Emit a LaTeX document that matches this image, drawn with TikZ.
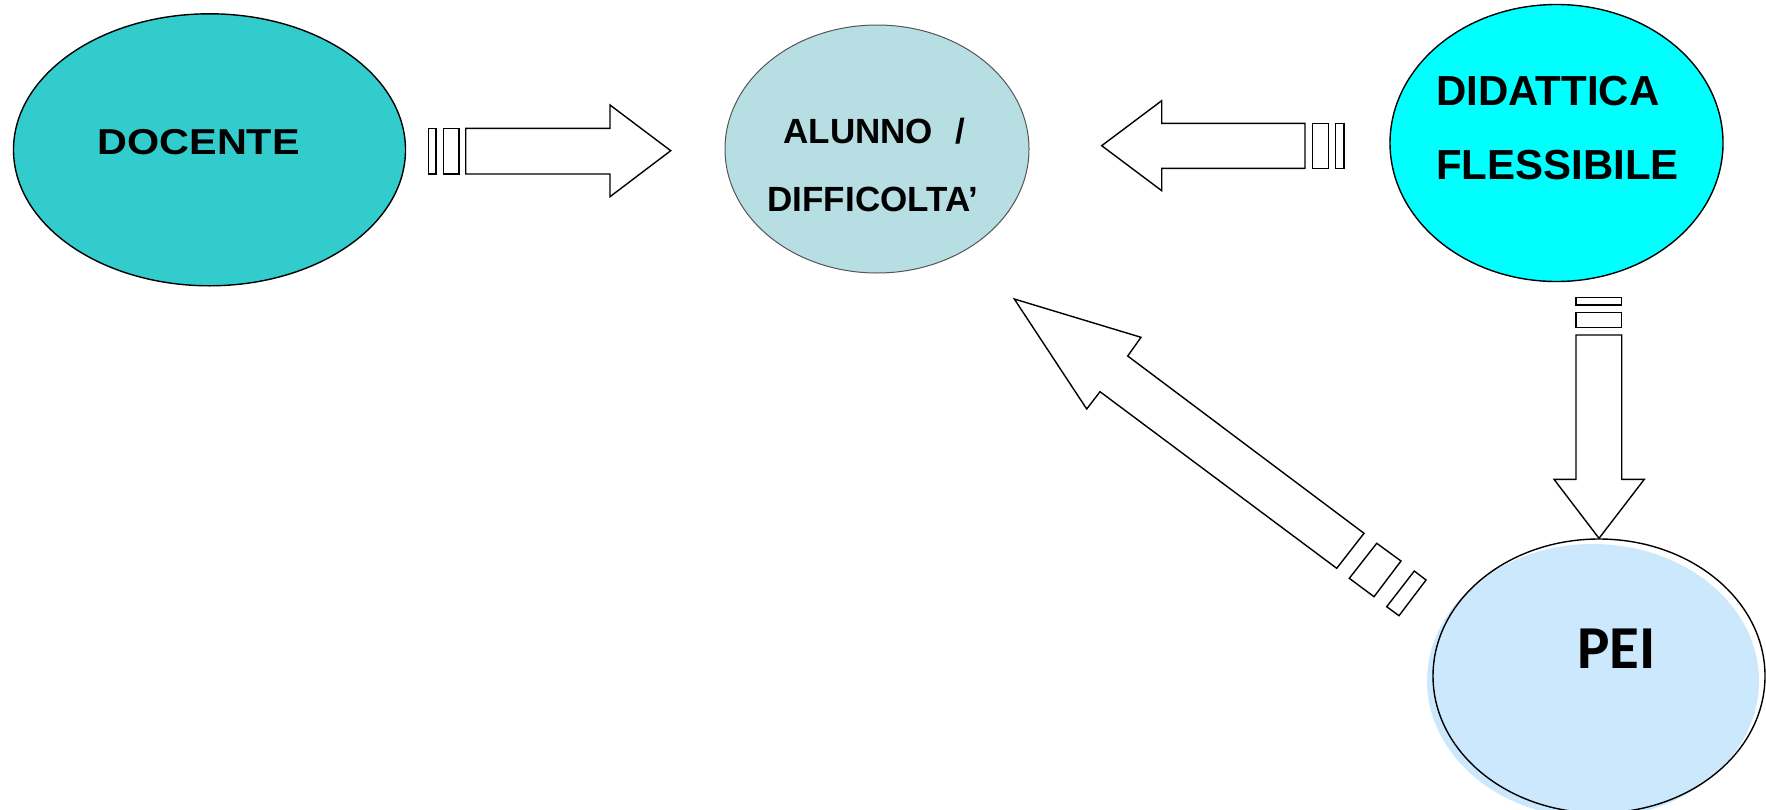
\documentclass[tikz,border=0pt]{standalone}
\usepackage{fontspec}
\usepackage{graphicx}
\setmainfont{Liberation Sans}
\newfontfamily\calibri{Carlito}
\usetikzlibrary{shapes.geometric}
\definecolor{docfill}{HTML}{33CCCC}
\definecolor{alufill}{HTML}{B7DEE2}
\definecolor{didfill}{HTML}{00FFFF}
\definecolor{peifill}{HTML}{CCE8FC}
\definecolor{aluline}{HTML}{555555}
\tikzset{
  blob/.style={ellipse, inner sep=0pt, draw=black, line width=1.4pt},
  lbl/.style={anchor=base west, inner sep=0pt, font=\bfseries},
  blockarrow/.style={draw=black, fill=white, line width=1.4pt, line join=miter},
}
\begin{document}
\begin{tikzpicture}[x=1pt,y=-1pt]
\useasboundingbox (0,0) rectangle (1766,809);
% ellipses
\node[blob, fill=docfill, minimum width=392pt, minimum height=272pt] (docente) at (209.5,149.8) {};
\node[blob, fill=alufill, draw=aluline, line width=1pt, minimum width=304pt, minimum height=248pt] (alunno) at (877,149) {};
\node[blob, fill=didfill, minimum width=333pt, minimum height=277pt] (didattica) at (1556.5,143) {};
\fill[peifill] (1593,681) ellipse [x radius=166pt, y radius=137pt];
\node[blob, minimum width=332pt, minimum height=274pt] (pei) at (1599,676) {};
% labels
\node[lbl] (tdoc) at (97.3,154.3) {\fontsize{36}{36}\selectfont\scalebox{1.15}[1]{DOCENTE}};
\node[lbl] (talu1) at (783.3,143.3) {\fontsize{35}{35}\selectfont ALUNNO\hspace{0.64em}/};
\node[lbl] (talu2) at (767.3,211.7) {\fontsize{35}{35}\selectfont DIFFICOLTA'};
\node[lbl] (tdid1) at (1436,105) {\fontsize{42}{42}\selectfont DIDATTICA};
\node[lbl] (tdid2) at (1436,179.3) {\fontsize{42}{42}\selectfont FLESSIBILE};
\node[lbl] (tpei) at (1577,668) {\calibri\fontsize{61}{61}\selectfont\bfseries PEI};
% arrow docente -> alunno
\draw[blockarrow] (428.3,128.3) rectangle (436,174);
\draw[blockarrow] (443.3,128.3) rectangle (459,174);
\draw[blockarrow] (465.7,128.3) -- (610,128.3) -- (610,105) -- (670.7,150.7) -- (610,196.7) -- (610,174) -- (465.7,174) -- cycle;
% arrow didattica -> alunno
\draw[blockarrow] (1312.7,123.3) rectangle (1328.3,168.3);
\draw[blockarrow] (1335.7,123.3) rectangle (1344,168.3);
\draw[blockarrow] (1305,123.3) -- (1161.7,123.3) -- (1161.7,100.7) -- (1101.7,145.7) -- (1161.7,190.7) -- (1161.7,168.3) -- (1305,168.3) -- cycle;
% arrow didattica -> pei
\draw[blockarrow] (1576,297.3) rectangle (1621.7,305);
\draw[blockarrow] (1576,312.3) rectangle (1621.7,327.7);
\draw[blockarrow] (1576,335) -- (1576,479.3) -- (1554,479.3) -- (1599,538.3) -- (1644.3,479.3) -- (1621.7,479.3) -- (1621.7,335) -- cycle;
% arrow pei -> alunno
\draw[blockarrow] (1014.3,299) -- (1141,337.3) -- (1127.7,356) -- (1364,533.3) -- (1336.7,568.3) -- (1100,391.7) -- (1086.7,409) -- cycle;
\draw[blockarrow] (1376.7,543.3) -- (1401,561) -- (1374,596.7) -- (1349.3,578.3) -- cycle;
\draw[blockarrow] (1414.3,571) -- (1426,580) -- (1399,615.7) -- (1386.7,606.7) -- cycle;
\end{tikzpicture}
\end{document}
